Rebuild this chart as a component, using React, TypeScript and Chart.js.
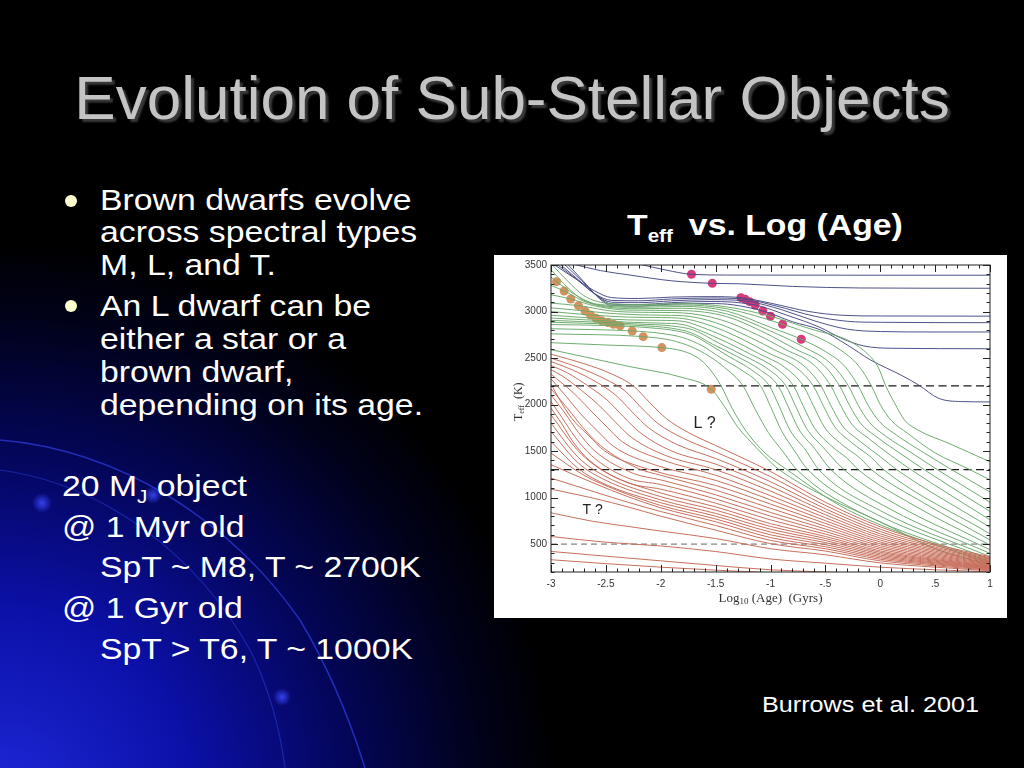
import React, { useEffect, useRef } from "react";
import { Chart, registerables } from "chart.js";

Chart.register(...registerables);

// ---------- axis ticks ----------
const xTickValues = [-3, -2.5, -2, -1.5, -1, -0.5, 0, 0.5, 1];
const xTickLabels = ["-3", "-2.5", "-2", "-1.5", "-1", "-.5", "0", ".5", "1"];
const yTickValues = [500, 1000, 1500, 2000, 2500, 3000, 3500];
const yTickLabels = ["500", "1000", "1500", "2000", "2500", "3000", "3500"];

// ---------- evolutionary tracks: [log10 age (Gyr), Teff (K)] ----------
// stars (blue)
const starTracks: number[][][] = [
  [[-2.2, 3510], [-1.95, 3445], [-1.72, 3400], [-1.4, 3392], [0, 3390], [1, 3390]],
  [[-2.8, 3510], [-2.55, 3440], [-2.27, 3390], [-1.9, 3330], [-1.53, 3303], [-1.28, 3298], [-0.8, 3270], [-0.18, 3253], [1, 3250]],
  [[-2.98, 3510], [-2.8, 3370], [-2.6, 3220], [-2.45, 3150], [-2.2, 3140], [-1.9, 3155], [-1.55, 3160], [-1.27, 3149], [-1.0, 3090], [-0.65, 3000], [-0.35, 2960], [0, 2952], [1, 2950]],
  [[-2.95, 3510], [-2.78, 3360], [-2.6, 3190], [-2.45, 3120], [-2.2, 3115], [-1.9, 3135], [-1.55, 3145], [-1.23, 3131], [-0.95, 3060], [-0.6, 2950], [-0.3, 2895], [0, 2884], [1, 2880]],
  [[-2.92, 3510], [-2.75, 3340], [-2.58, 3170], [-2.45, 3100], [-2.2, 3095], [-1.9, 3115], [-1.55, 3128], [-1.19, 3106], [-0.9, 3020], [-0.6, 2900], [-0.3, 2810], [0, 2785], [0.5, 2780], [1, 2780]],
  [[-2.88, 3510], [-2.72, 3330], [-2.56, 3150], [-2.45, 3080], [-2.2, 3075], [-1.9, 3095], [-1.55, 3108], [-1.14, 3070], [-0.85, 2960], [-0.55, 2830], [-0.35, 2710], [-0.15, 2630], [0.1, 2605], [1, 2600]],
  [[-2.85, 3510], [-2.7, 3320], [-2.55, 3130], [-2.45, 3065], [-2.2, 3058], [-1.9, 3080], [-1.5, 3085], [-1.07, 3006], [-0.8, 2890], [-0.54, 2800], [-0.3, 2640], [-0.09, 2480], [0.2, 2310], [0.35, 2210], [0.53, 2068], [0.74, 2032], [1, 2028]],
];

// brown dwarfs (green)
const brownDwarfTracks: number[][][] = [
  [[-3, 2590], [-2.27, 2405], [-1.8, 2290], [-1.54, 2165], [-1.42, 1980], [-1.3, 1760], [-1.18, 1600], [-1.05, 1440], [-0.92, 1300], [-0.5, 1010], [0, 740], [0.5, 450], [1, 275]],
  [[-3, 2665], [-2.5, 2640], [-1.99, 2612], [-1.8, 2575], [-1.66, 2500], [-1.56, 2390], [-1.45, 2200], [-1.35, 1960], [-1.22, 1710], [-1.05, 1480], [-0.85, 1300], [-0.3, 870], [1, 290]],
  [[-3, 2760], [-2.16, 2730], [-1.9, 2690], [-1.72, 2620], [-1.56, 2520], [-1.42, 2400], [-1.25, 2200], [-1.14, 1950], [-1.02, 1700], [-0.89, 1500], [-0.76, 1300], [-0.2, 850], [1, 310]],
  [[-3, 2815], [-2.26, 2791], [-2.0, 2765], [-1.8, 2720], [-1.62, 2630], [-1.45, 2500], [-1.25, 2360], [-1.09, 2200], [-1.0, 1980], [-0.9, 1720], [-0.78, 1500], [-0.66, 1300], [-0.1, 860], [1, 335]],
  [[-3, 2860], [-2.37, 2845], [-2.1, 2825], [-1.85, 2790], [-1.7, 2740], [-1.55, 2640], [-1.37, 2510], [-1.17, 2370], [-1.01, 2200], [-0.92, 1980], [-0.82, 1720], [-0.68, 1510], [-0.56, 1300], [0, 860], [1, 365]],
  [[-3, 2885], [-2.43, 2863], [-2.2, 2850], [-1.9, 2820], [-1.72, 2770], [-1.53, 2650], [-1.31, 2520], [-1.09, 2370], [-0.93, 2200], [-0.84, 1980], [-0.74, 1730], [-0.6, 1530], [-0.45, 1300], [0.1, 870], [1, 400]],
  [[-3, 2905], [-2.48, 2881], [-2.2, 2865], [-1.9, 2845], [-1.7, 2800], [-1.47, 2660], [-1.25, 2530], [-1.02, 2380], [-0.86, 2200], [-0.77, 1980], [-0.67, 1740], [-0.52, 1540], [-0.33, 1300], [0.2, 890], [1, 440]],
  [[-3, 2930], [-2.54, 2902], [-2.3, 2885], [-2.0, 2875], [-1.8, 2860], [-1.63, 2790], [-1.4, 2670], [-1.18, 2540], [-0.95, 2390], [-0.79, 2200], [-0.7, 1980], [-0.6, 1750], [-0.44, 1550], [-0.3, 1420], [-0.2, 1300], [0.3, 920], [1, 490]],
  [[-3, 2960], [-2.59, 2927], [-2.3, 2910], [-2.0, 2905], [-1.8, 2895], [-1.6, 2820], [-1.34, 2690], [-1.11, 2550], [-0.87, 2400], [-0.7, 2200], [-0.61, 1990], [-0.51, 1760], [-0.35, 1570], [-0.18, 1420], [-0.08, 1300], [0.4, 940], [1, 545]],
  [[-3, 3000], [-2.64, 2963], [-2.3, 2940], [-2.0, 2935], [-1.8, 2925], [-1.55, 2850], [-1.27, 2710], [-1.03, 2560], [-0.78, 2410], [-0.61, 2200], [-0.52, 1990], [-0.42, 1770], [-0.26, 1590], [-0.08, 1430], [0.03, 1300], [1, 610]],
  [[-3, 3040], [-2.69, 3006], [-2.4, 2975], [-2.0, 2960], [-1.8, 2955], [-1.5, 2880], [-1.2, 2730], [-0.95, 2580], [-0.7, 2420], [-0.54, 2200], [-0.45, 1990], [-0.35, 1780], [-0.19, 1610], [0.0, 1440], [0.15, 1300], [1, 680]],
  [[-3, 3090], [-2.75, 3063], [-2.4, 3000], [-2.0, 2990], [-1.8, 2985], [-1.45, 2910], [-1.12, 2750], [-0.86, 2590], [-0.61, 2430], [-0.45, 2200], [-0.36, 1990], [-0.26, 1790], [-0.1, 1630], [0.1, 1450], [0.28, 1300], [1, 760]],
  [[-3, 3180], [-2.82, 3135], [-2.6, 3060], [-2.3, 3015], [-1.8, 3010], [-1.4, 2945], [-1.05, 2770], [-0.78, 2600], [-0.53, 2440], [-0.37, 2200], [-0.28, 1990], [-0.18, 1800], [-0.03, 1650], [0.2, 1460], [0.4, 1300], [1, 850]],
  [[-3, 3280], [-2.88, 3221], [-2.7, 3110], [-2.5, 3050], [-2.2, 3030], [-1.8, 3035], [-1.4, 2975], [-1.0, 2790], [-0.7, 2620], [-0.45, 2440], [-0.29, 2200], [-0.2, 1990], [-0.1, 1810], [0.05, 1660], [0.3, 1470], [0.52, 1300], [1, 950]],
  [[-3, 3370], [-2.95, 3321], [-2.75, 3160], [-2.55, 3065], [-2.2, 3045], [-1.8, 3055], [-1.4, 3005], [-1.0, 2830], [-0.72, 2702], [-0.5, 2570], [-0.33, 2420], [-0.2, 2200], [-0.11, 1990], [-0.01, 1820], [0.15, 1670], [0.4, 1480], [0.65, 1300], [1, 1060]],
  [[-3, 3450], [-2.85, 3260], [-2.7, 3120], [-2.5, 3070], [-2.2, 3060], [-1.8, 3070], [-1.4, 3030], [-0.89, 2863], [-0.6, 2740], [-0.38, 2600], [-0.2, 2420], [-0.08, 2200], [0.0, 2000], [0.1, 1830], [0.25, 1690], [0.5, 1480], [0.8, 1310], [1, 1190]],
  [[-3, 3515], [-2.85, 3330], [-2.7, 3170], [-2.5, 3090], [-2.2, 3075], [-1.8, 3085], [-1.4, 3050], [-1.0, 2949], [-0.6, 2800], [-0.33, 2710], [-0.15, 2580], [-0.02, 2404], [0.05, 2200], [0.13, 2018], [0.22, 1835], [0.34, 1728], [0.62, 1585], [1, 1385]],
];

// planets (red)
const planetTracks: number[][][] = [
  [[-3, 2541], [-2.7, 2440], [-2.45, 2330], [-2.25, 2200], [-2.1, 2020], [-1.95, 1850], [-1.75, 1700], [-1.5, 1560], [-1, 1280], [-0.5, 950], [0, 686], [0.5, 500], [1, 364]],
  [[-3, 2498], [-2.75, 2400], [-2.5, 2270], [-2.33, 2150], [-2.18, 1970], [-2.03, 1800], [-1.8, 1640], [-1.5, 1490], [-1, 1225], [-0.5, 915], [0, 660], [0.5, 484], [1, 354]],
  [[-3, 2462], [-2.8, 2370], [-2.57, 2230], [-2.41, 2100], [-2.26, 1920], [-2.11, 1750], [-1.85, 1570], [-1.5, 1420], [-1, 1170], [-0.5, 880], [0, 635], [0.5, 468], [1, 344]],
  [[-3, 2419], [-2.85, 2340], [-2.65, 2190], [-2.49, 2050], [-2.34, 1870], [-2.19, 1700], [-1.9, 1500], [-1.5, 1360], [-1, 1120], [-0.5, 848], [0, 610], [0.5, 453], [1, 335]],
  [[-3, 2373], [-2.9, 2310], [-2.72, 2150], [-2.57, 2000], [-2.42, 1820], [-2.27, 1650], [-1.95, 1450], [-1.5, 1300], [-1, 1070], [-0.5, 815], [0, 587], [0.5, 438], [1, 326]],
  [[-3, 2326], [-2.8, 2130], [-2.65, 1950], [-2.5, 1770], [-2.35, 1600], [-2, 1410], [-1.5, 1240], [-1, 1020], [-0.5, 783], [0, 565], [0.5, 424], [1, 317]],
  [[-3, 2276], [-2.87, 2100], [-2.73, 1900], [-2.58, 1720], [-2.43, 1550], [-2.05, 1350], [-1.5, 1185], [-1, 975], [-0.5, 752], [0, 543], [0.5, 410], [1, 309]],
  [[-3, 2222], [-2.93, 2070], [-2.81, 1850], [-2.66, 1670], [-2.51, 1500], [-2.1, 1300], [-1.5, 1130], [-1, 930], [-0.5, 722], [0, 522], [0.5, 396], [1, 301]],
  [[-3, 2169], [-2.85, 1960], [-2.7, 1740], [-2.55, 1560], [-2.2, 1310], [-2, 1240], [-1.5, 1080], [-1, 885], [-0.5, 692], [0, 502], [0.5, 383], [1, 293]],
  [[-3, 2104], [-2.88, 1920], [-2.75, 1700], [-2.6, 1500], [-2.25, 1260], [-2, 1190], [-1.5, 1030], [-1, 840], [-0.5, 663], [0, 482], [0.5, 370], [1, 285]],
  [[-3, 2033], [-2.9, 1860], [-2.78, 1650], [-2.63, 1450], [-2.3, 1210], [-2, 1140], [-1.5, 985], [-1, 800], [-0.5, 635], [0, 463], [0.5, 357], [1, 278]],
  [[-3, 1961], [-2.9, 1790], [-2.8, 1600], [-2.65, 1400], [-2.3, 1160], [-2, 1090], [-1.5, 940], [-1, 760], [-0.5, 608], [0, 445], [0.5, 345], [1, 271]],
  [[-3, 1890], [-2.75, 1500], [-2.5, 1270], [-2, 1050], [-1.5, 900], [-1, 720], [-0.5, 582], [0, 427], [0.5, 334], [1, 264]],
  [[-3, 1800], [-2.75, 1430], [-2.5, 1225], [-2, 1010], [-1.5, 865], [-1, 690], [-0.5, 560], [0, 412], [0.5, 325], [1, 258]],
  [[-3, 1711], [-2.75, 1370], [-2.5, 1185], [-2, 975], [-1.5, 830], [-1, 660], [-0.5, 538], [0, 397], [0.5, 316], [1, 252]],
  [[-3, 1603], [-2.75, 1310], [-2.5, 1140], [-2, 945], [-1.5, 800], [-1, 630], [-0.5, 516], [0, 382], [0.5, 306], [1, 246]],
  [[-3, 1478], [-2.7, 1240], [-2.4, 1080], [-2, 915], [-1.5, 770], [-1, 600], [-0.5, 494], [0, 367], [0.5, 297], [1, 240]],
  [[-3, 1353], [-2.6, 1150], [-2.3, 1010], [-2, 890], [-1.5, 740], [-1, 570], [-0.5, 472], [0, 352], [0.5, 288], [1, 234]],
  [[-3, 1209], [-2.6, 1060], [-2.3, 950], [-2, 850], [-1.5, 700], [-1, 540], [-0.5, 450], [0, 337], [0.5, 278], [1, 228]],
  [[-3, 1091], [-2.6, 990], [-2.3, 900], [-2, 800], [-1.5, 650], [-1, 505], [-0.5, 425], [0, 320], [0.5, 266], [1, 221]],
  [[-3, 836], [-2.62, 745], [-2.3, 690], [-2, 640], [-1.5, 560], [-1, 450], [-0.5, 385], [0, 298], [0.5, 252], [1, 213]],
  [[-3, 582], [-2.5, 520], [-2, 480], [-1.5, 420], [-1, 340], [-0.5, 295], [0, 252], [0.5, 224], [1, 202]],
  [[-3, 421], [-2.5, 370], [-2, 320], [-1.5, 270], [-1, 224], [-0.5, 200], [0, 180]],
  [[-3, 332], [-2.5, 290], [-2, 252], [-1.5, 220], [-1, 192]],
];

// 50% deuterium burned (tan) and 50% lithium burned (magenta)
const deuteriumDots: number[][] = [
  [-2.95, 3321], [-2.88, 3221], [-2.82, 3135], [-2.75, 3063], [-2.69, 3006], [-2.64, 2963], [-2.59, 2927],
  [-2.54, 2902], [-2.48, 2881], [-2.43, 2863], [-2.37, 2845], [-2.26, 2791], [-2.16, 2730], [-1.99, 2612], [-1.54, 2165],
];
const lithiumDots: number[][] = [
  [-1.72, 3400], [-1.53, 3303], [-1.27, 3149], [-1.23, 3131], [-1.19, 3106], [-1.14, 3070], [-1.07, 3006],
  [-1.0, 2949], [-0.89, 2863], [-0.72, 2702],
];

// spectral-type boundaries (K)
const boundaryLevels = [2200, 1300, 500];
const regionLabels = [
  { text: "L ?", x: -1.6, y: 1790, size: 16 },
  { text: "T ?", x: -2.62, y: 870, size: 14 },
];

const RED = "rgba(196,104,84,0.95)";
const GREEN = "rgba(104,168,104,0.95)";
const BLUE = "rgba(70,74,130,0.95)";

const toXY = (pts: number[][]) => pts.map(([x, y]) => ({ x, y }));

const framePlugin = {
  id: "frameTicks",
  afterDraw(chart: any) {
    const { ctx, chartArea: a, scales } = chart;
    const xs = scales.x;
    const ys = scales.y;
    ctx.save();
    ctx.strokeStyle = "#222";
    ctx.lineWidth = 1;
    ctx.strokeRect(a.left, a.top, a.right - a.left, a.bottom - a.top);
    ctx.beginPath();
    for (let i = 0; i <= 40; i++) {
      const v = -3 + i * 0.1;
      const px = Math.round(xs.getPixelForValue(v)) + 0.5;
      const major = i % 5 === 0;
      const len = major ? 7 : 3.5;
      ctx.moveTo(px, a.bottom);
      ctx.lineTo(px, a.bottom - len);
      ctx.moveTo(px, a.top);
      ctx.lineTo(px, a.top + len);
    }
    for (let v = 200; v <= 3500; v += 100) {
      const py = Math.round(ys.getPixelForValue(v)) + 0.5;
      const major = v % 500 === 0;
      const len = major ? 7 : 3.5;
      ctx.moveTo(a.left, py);
      ctx.lineTo(a.left + len, py);
      ctx.moveTo(a.right, py);
      ctx.lineTo(a.right - len, py);
    }
    ctx.stroke();

    // region labels
    ctx.fillStyle = "#222";
    ctx.textAlign = "center";
    ctx.textBaseline = "middle";
    regionLabels.forEach((l) => {
      ctx.font = `${l.size}px "Liberation Sans", Arial, sans-serif`;
      ctx.fillText(l.text, xs.getPixelForValue(l.x), ys.getPixelForValue(l.y));
    });

    // x title: Log10 (Age) (Gyrs)
    ctx.fillStyle = "#333";
    ctx.textBaseline = "alphabetic";
    ctx.textAlign = "left";
    const serif = '"Liberation Serif", "Times New Roman", serif';
    const big = `13px ${serif}`;
    const small = `9px ${serif}`;
    const parts = [
      { t: "Log", f: big, dy: 0 },
      { t: "10", f: small, dy: 2 },
      { t: " (Age)  (Gyrs)", f: big, dy: 0 },
    ];
    let w = 0;
    parts.forEach((p) => { ctx.font = p.f; w += ctx.measureText(p.t).width; });
    let cx = (a.left + a.right) / 2 - w / 2;
    const base = a.bottom + 30;
    parts.forEach((p) => { ctx.font = p.f; ctx.fillText(p.t, cx, base + p.dy); cx += ctx.measureText(p.t).width; });

    // y title: Teff (K)
    ctx.save();
    ctx.translate(a.left - 33, ys.getPixelForValue(2030));
    ctx.rotate(-Math.PI / 2);
    const yparts = [
      { t: "T", f: `12px ${serif}`, dy: 0 },
      { t: "eff", f: `8px ${serif}`, dy: 2 },
      { t: "  (K)", f: `12px ${serif}`, dy: 0 },
    ];
    let yw = 0;
    yparts.forEach((p) => { ctx.font = p.f; yw += ctx.measureText(p.t).width; });
    let yx = -yw / 2;
    yparts.forEach((p) => { ctx.font = p.f; ctx.fillText(p.t, yx, 4 + p.dy); yx += ctx.measureText(p.t).width; });
    ctx.restore();
    ctx.restore();
  },
};

function TrackChart() {
  const ref = useRef<HTMLCanvasElement | null>(null);
  useEffect(() => {
    if (!ref.current) return;
    const lineDs = (pts: number[][], color: string) => ({
      data: toXY(pts),
      borderColor: color,
      borderWidth: 1,
      pointRadius: 0,
      fill: false,
      cubicInterpolationMode: "monotone" as const,
    });
    const datasets: any[] = [
      ...planetTracks.map((p) => lineDs(p, RED)),
      ...brownDwarfTracks.map((p) => lineDs(p, GREEN)),
      ...starTracks.map((p) => lineDs(p, BLUE)),
      ...boundaryLevels.map((lv, i) => ({
        data: [{ x: -3, y: lv }, { x: 1, y: lv }],
        borderColor: i === 2 ? "#555" : "#1a1a1a",
        borderWidth: i === 2 ? 0.9 : 1.3,
        borderDash: i === 2 ? [6, 4] : [8, 4.5],
        pointRadius: 0,
        fill: false,
      })),
      {
        data: toXY(deuteriumDots),
        showLine: false,
        pointRadius: 4.5,
        pointBackgroundColor: "#d4925e",
        pointBorderColor: "#d4925e",
        pointBorderWidth: 0,
      },
      {
        data: toXY(lithiumDots),
        showLine: false,
        pointRadius: 4.5,
        pointBackgroundColor: "#d83a7c",
        pointBorderColor: "#d83a7c",
        pointBorderWidth: 0,
      },
    ];
    const chart = new Chart(ref.current, {
      type: "line",
      data: { datasets },
      options: {
        animation: false,
        responsive: false,
        events: [],
        layout: { padding: { left: 0, right: 17, top: 10, bottom: 0 } },
        plugins: { legend: { display: false }, tooltip: { enabled: false } },
        scales: {
          x: {
            type: "linear",
            min: -3,
            max: 1,
            grid: { display: false, drawTicks: false },
            border: { display: false },
            afterBuildTicks: (s: any) => { s.ticks = xTickValues.map((v) => ({ value: v })); },
            afterFit: (s: any) => { s.height = 46; },
            ticks: {
              autoSkip: false,
              maxRotation: 0,
              padding: 6,
              color: "#333",
              font: { size: 10, family: '"Liberation Sans", Arial, sans-serif' },
              callback: (v: any) => xTickLabels[xTickValues.indexOf(Number(v))] ?? "",
            },
          },
          y: {
            type: "linear",
            min: 200,
            max: 3500,
            grid: { display: false, drawTicks: false },
            border: { display: false },
            afterBuildTicks: (s: any) => { s.ticks = yTickValues.map((v) => ({ value: v })); },
            afterFit: (s: any) => { s.width = 57; },
            ticks: {
              autoSkip: false,
              padding: 4,
              color: "#333",
              font: { size: 10, family: '"Liberation Sans", Arial, sans-serif' },
              callback: (v: any) => yTickLabels[yTickValues.indexOf(Number(v))] ?? "",
            },
          },
        },
      },
      plugins: [framePlugin],
    });
    return () => chart.destroy();
  }, []);
  return (
    <canvas
      ref={ref}
      width={513}
      height={363}
      style={{ position: "absolute", left: 494, top: 255, width: 513, height: 363, background: "#fff" }}
    />
  );
}

const SANS = '"Liberation Sans", Arial, Helvetica, sans-serif';

function Line({ x, base, size = 29.5, bold = false, children, color = "#fff" }: any) {
  return (
    <div
      style={{
        position: "absolute",
        left: x,
        top: base - 0.8465 * size,
        fontSize: size,
        lineHeight: `${size}px`,
        fontFamily: SANS,
        fontWeight: bold ? 700 : 400,
        color,
        whiteSpace: "nowrap",
        transform: "scaleX(1.145)",
        transformOrigin: "left top",
      }}
    >
      {children}
    </div>
  );
}

const bulletLines = [
  { x: 100, base: 209.5, t: "Brown dwarfs evolve" },
  { x: 100, base: 242, t: "across spectral types" },
  { x: 100, base: 275, t: "M, L, and T." },
  { x: 100, base: 316, t: "An L dwarf can be" },
  { x: 100, base: 348.5, t: "either a star or a" },
  { x: 100, base: 381.5, t: "brown dwarf," },
  { x: 100, base: 414.5, t: "depending on its age." },
];
const noteLines = [
  { x: 100, base: 577, t: "SpT ~ M8, T ~ 2700K" },
  { x: 62, base: 536.5, t: "@ 1 Myr old" },
  { x: 62, base: 618, t: "@ 1 Gyr old" },
  { x: 100, base: 658.5, t: "SpT > T6, T ~ 1000K" },
];

export default function App() {
  return (
    <div style={{ position: "fixed", left: 0, top: 0, width: 1024, height: 768, overflow: "hidden", background: "#000" }}>
      <svg width={1024} height={768} style={{ position: "absolute", left: 0, top: 0 }}>
        <defs>
          <radialGradient id="glow" cx="0" cy="800" r="560" gradientUnits="userSpaceOnUse">
            <stop offset="0" stopColor="#1e28d8" />
            <stop offset="0.35" stopColor="#0b10a6" />
            <stop offset="0.62" stopColor="#04065a" />
            <stop offset="0.85" stopColor="#01021c" />
            <stop offset="1" stopColor="#000000" />
          </radialGradient>
          <radialGradient id="dot" cx="0.5" cy="0.5" r="0.5">
            <stop offset="0" stopColor="#3a48ff" stopOpacity="0.9" />
            <stop offset="1" stopColor="#3a48ff" stopOpacity="0" />
          </radialGradient>
        </defs>
        <rect width={1024} height={768} fill="#000" />
        <rect width={1024} height={768} fill="url(#glow)" />
        <path d="M0,440 C120,450 230,520 300,620 C330,670 350,720 365,768" stroke="#2a36d0" strokeWidth={1.5} fill="none" opacity={0.8} />
        <path d="M0,470 C110,485 200,560 250,650 C270,690 280,730 285,768" stroke="#2330c0" strokeWidth={1.2} fill="none" opacity={0.7} />
        <circle cx={42} cy={503} r={10} fill="url(#dot)" />
        <circle cx={153} cy={495} r={9} fill="url(#dot)" />
        <circle cx={282} cy={697} r={9} fill="url(#dot)" />
      </svg>

      <div
        style={{
          position: "absolute",
          left: 0,
          width: 1024,
          top: 119 - 0.8465 * 62,
          textAlign: "center",
          fontSize: 62,
          lineHeight: "62px",
          fontFamily: SANS,
          color: "#c4c4c4",
          textShadow: "3px 3px 2px #3a3a3a",
          whiteSpace: "nowrap",
        }}
      >
        Evolution of Sub-Stellar Objects
      </div>

      {[201, 306].map((cy) => (
        <div key={cy} style={{ position: "absolute", left: 65, top: cy - 6, width: 12, height: 12, borderRadius: 6, background: "#ffffd0" }} />
      ))}
      {bulletLines.map((l) => (
        <Line key={l.t} x={l.x} base={l.base}>{l.t}</Line>
      ))}
      <Line x={62} base={496}>
        20 M<span style={{ fontSize: 18, position: "relative", top: 7 }}>J</span> object
      </Line>
      {noteLines.map((l) => (
        <Line key={l.t} x={l.x} base={l.base}>{l.t}</Line>
      ))}

      <Line x={627} base={235} bold>
        T<span style={{ fontSize: 18, position: "relative", top: 7 }}>eff</span>
        <span style={{ marginLeft: 14 }}>vs. Log (Age)</span>
      </Line>

      <TrackChart />

      <Line x={762} base={713} size={22}>Burrows et al. 2001</Line>
    </div>
  );
}
